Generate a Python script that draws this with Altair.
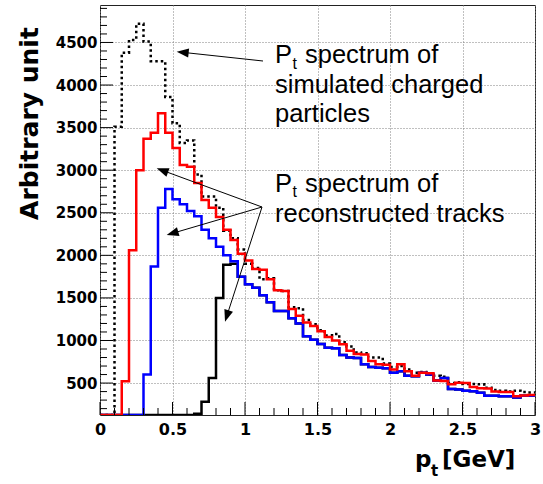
import math
import altair as alt
import pandas as pd

# ---------------- data (bins of 0.05 GeV from 0 to 3 GeV) ----------------
bin_left = [round(i * 0.05, 2) for i in range(60)]

simulated = [0, 0, 3510, 4380, 4530, 4720, 4510, 4280, 4280, 3860,
             3550, 3320, 3350, 2950, 2690, 2690, 2560, 2290, 2200, 2070,
             1900, 1850, 1720, 1730, 1590, 1580, 1390, 1380, 1240, 1190,
             1120, 1060, 1075, 980, 930, 860, 850, 800, 800, 730,
             690, 700, 660, 620, 630, 600, 585, 575, 500, 510,
             490, 490, 485, 445, 420, 410, 400, 410, 395, 390]

reco_red = [0, 0, 0, 520, 2060, 3000, 3370, 3440, 3670, 3440,
            3260, 3060, 3040, 2850, 2650, 2560, 2450, 2300, 2180, 2020,
            1940, 1840, 1830, 1720, 1590, 1580, 1370, 1290, 1210, 1170,
            1110, 1040, 1000, 955, 880, 840, 835, 760, 720, 715,
            660, 720, 640, 585, 620, 615, 530, 525, 485, 505,
            500, 455, 440, 435, 400, 395, 395, 345, 355, 360]

reco_blue = [0, 0, 0, 0, 0, 0, 600, 1870, 2560, 2780,
             2660, 2600, 2520, 2460, 2300, 2200, 2100, 2000, 1930, 1750,
             1660, 1620, 1530, 1450, 1345, 1345, 1260, 1200, 1050, 1010,
             960, 915, 910, 830, 800, 795, 720, 690, 680, 675,
             620, 640, 585, 580, 620, 600, 530, 560, 430, 425,
             410, 405, 385, 350, 350, 345, 345, 330, 350, 350]

reco_black = [0, 0, 0, 0, 0, 0, 0, 0, 0, 0,
              0, 0, 0, 140, 280, 560, 1500, 1890, 1900, 1750,
              1660, 1620, 1530, 1450, 1345, 1345, 1260, 1200, 1050, 1010,
              960, 915, 910, 830, 800, 795, 720, 690, 680, 675,
              620, 640, 585, 580, 620, 600, 530, 560, 430, 425,
              410, 405, 385, 350, 350, 345, 345, 330, 350, 350]

x_major = [0, 0.5, 1, 1.5, 2, 2.5, 3]
x_minor = [round(i * 0.1, 1) for i in range(31) if i % 5 != 0]
y_major = [500, 1000, 1500, 2000, 2500, 3000, 3500, 4000, 4500]
y_minor = [v for v in range(200, 4950, 100) if v % 500 != 0]

# ---------------- layout ----------------
W, H = 435, 410
OX, OY = 100, 5  # plot origin in page pixels

xscale = alt.Scale(domain=[0, 3], nice=False, zero=False)
yscale = alt.Scale(domain=[125, 4940], nice=False, zero=False, clamp=True)

xaxis = alt.Axis(values=x_major, format="~g", title=None, labelFont="DejaVu Sans",
                 labelFontSize=16, labelFontWeight="bold", labelColor="black",
                 labelPadding=6, ticks=False, tickSize=0, domain=False, grid=True,
                 gridColor="#808080", gridDash=[1, 2], gridWidth=1,
                 labelFlush=False, labelOverlap=False)
yaxis = alt.Axis(values=y_major, format="d", title="Arbitrary unit",
                 titleFont="DejaVu Sans", titleFontSize=25, titleFontWeight="bold",
                 titleColor="black", titleAngle=270, titleX=-63, titleY=118,
                 titleAlign="center", titleBaseline="alphabetic",
                 labelFont="DejaVu Sans", labelFontSize=15, labelFontWeight="bold",
                 labelColor="black", labelPadding=3, ticks=False, tickSize=0,
                 domain=False, grid=True, gridColor="#808080", gridDash=[1, 2],
                 gridWidth=1, labelFlush=False, labelOverlap=False)


def hist_layer(vals, color, dash=None):
    df = pd.DataFrame({"pt": bin_left + [3.0], "count": vals + [vals[-1]]})
    kw = dict(color=color, strokeWidth=2.5, interpolate="step-after", clip=True)
    if dash:
        kw["strokeDash"] = dash
    return alt.Chart(df).mark_line(**kw).encode(
        x=alt.X("pt:Q", scale=xscale, axis=xaxis),
        y=alt.Y("count:Q", scale=yscale, axis=yaxis),
    )


layers = [
    hist_layer(simulated, "black", [2.5, 3]),
    hist_layer(reco_black, "black"),
    hist_layer(reco_blue, "#0000ff"),
    hist_layer(reco_red, "#ff0000"),
]

# inward ticks (ROOT style)
for vals, length in ((y_major, 13), (y_minor, 7)):
    layers.append(alt.Chart(pd.DataFrame({"v": vals})).mark_rule(color="black", strokeWidth=1).encode(
        y=alt.Y("v:Q", scale=yscale, axis=yaxis), x=alt.value(0), x2=alt.value(length)))
for vals, length in ((x_major, 13), (x_minor, 7)):
    layers.append(alt.Chart(pd.DataFrame({"v": vals})).mark_rule(color="black", strokeWidth=1).encode(
        x=alt.X("v:Q", scale=xscale, axis=xaxis), y=alt.value(H), y2=alt.value(H - length)))

# ---------------- arrows ----------------
arrows = [((263, 61), (176.7, 51.7)),
          ((262, 207), (156.7, 168.3)),
          ((262, 207), (166.7, 235)),
          ((262, 207), (225, 321.7))]
HEAD = 12.0
for (x1, y1), (x2, y2) in arrows:
    dx, dy = x2 - x1, y2 - y1
    n = math.hypot(dx, dy)
    ux, uy = dx / n, dy / n
    ang = math.degrees(math.atan2(ux, -uy)) % 360
    cx, cy = x2 - ux * HEAD / 2, y2 - uy * HEAD / 2
    one = pd.DataFrame({"a": [0]})
    layers.append(alt.Chart(one).mark_rule(color="black", strokeWidth=1).encode(
        x=alt.value(x1 - OX), y=alt.value(y1 - OY),
        x2=alt.value(cx - OX), y2=alt.value(cy - OY)))
    layers.append(alt.Chart(one).mark_point(
        shape="M0,-1L0.75,1L-0.75,1Z", filled=True, color="black", opacity=1,
        size=HEAD * HEAD, angle=ang, strokeWidth=0).encode(
        x=alt.value(cx - OX), y=alt.value(cy - OY)))

# ---------------- texts ----------------
ann_font = "Liberation Sans"
texts = [
    # (text, x, baseline y, size, font, weight)
    ("P", 275, 63.3, 25.5, ann_font, "normal"),
    ("t", 292.5, 68.5, 16, ann_font, "normal"),
    ("spectrum of", 305, 63.3, 25.5, ann_font, "normal"),
    ("simulated charged", 275, 93.3, 25.5, ann_font, "normal"),
    ("particles", 275, 121.7, 25.5, ann_font, "normal"),
    ("P", 275, 192, 25.5, ann_font, "normal"),
    ("t", 292.5, 197.2, 16, ann_font, "normal"),
    ("spectrum of", 305, 192, 25.5, ann_font, "normal"),
    ("reconstructed tracks", 275, 222, 25.5, ann_font, "normal"),
    ("p", 415, 467, 23, "DejaVu Sans", "bold"),
    ("t", 431, 476, 15, "DejaVu Sans", "bold"),
    ("[GeV]", 442, 467, 23, "DejaVu Sans", "bold"),
]
for t, x, y, size, font, weight in texts:
    layers.append(alt.Chart(pd.DataFrame({"t": [t]})).mark_text(
        align="left", baseline="alphabetic", font=font, fontSize=size,
        fontWeight=weight, color="black").encode(
        x=alt.value(x - OX), y=alt.value(y - OY), text="t:N"))

chart = alt.layer(*layers).properties(
    width=W, height=H,
    autosize=alt.AutoSizeParams(type="none"),
    padding={"left": OX, "top": OY, "right": 543 - OX - W, "bottom": 484 - OY - H},
).configure_view(stroke="#222222", strokeWidth=1)

chart.save("out.html", embed_options={"renderer": "svg", "actions": False})
